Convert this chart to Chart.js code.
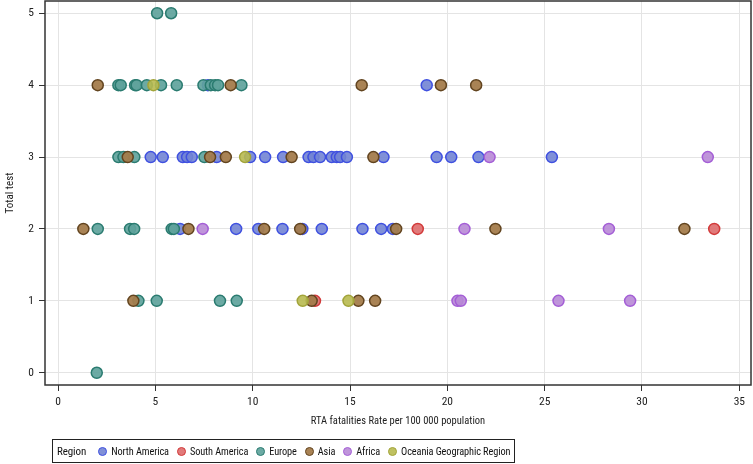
<!DOCTYPE html>
<html>
<head>
<meta charset="utf-8">
<script src="https://cdn.jsdelivr.net/npm/chart.js@4.4.0/dist/chart.umd.min.js"></script>
<style>
  html, body { margin: 0; padding: 0; background: #fff; }
  #wrap { position: relative; width: 753px; height: 464px; font-family: 'Roboto Condensed', 'Liberation Sans', sans-serif; }
  #legend { position: absolute; left: 52px; top: 439px; height: 24px; border: 1px solid #222; display: flex; align-items: center; padding: 0 4px 0 4px; font-size: 10.3px; letter-spacing: -0.1px; color: #111; white-space: nowrap; box-sizing: border-box; }
  #legend .title { margin-right: 12px; font-size: 11px; }
  #legend .item { display: flex; align-items: center; margin-right: 8px; }
  #legend .item:last-child { margin-right: 0; }
  #legend .dot { width: 9px; height: 9px; border-radius: 50%; border: 1.5px solid; margin-right: 4px; box-sizing: border-box; }
</style>
</head>
<body>
<div id="wrap">
  <canvas id="c" width="753" height="464"></canvas>
  <div id="legend"></div>
</div>
<script>
// ---- data ----
const regions = ['North America', 'South America', 'Europe', 'Asia', 'Africa', 'Oceania Geographic Region'];
const legendTitle = 'Region';
const xTitle = 'RTA fatalities Rate per 100 000 population';
const yTitle = 'Total test';
const xTickValues = [0, 5, 10, 15, 20, 25, 30, 35];
const yTickValues = [0, 1, 2, 3, 4, 5];

const northAmericaX = [7.7, 18.94,
  4.76, 5.38, 6.41, 6.63, 6.87, 8.15, 9.87, 10.64, 11.56, 12.87, 13.12, 13.46, 14.06, 14.32, 14.49, 14.84, 16.72, 19.45, 20.2, 21.6, 25.37,
  6.27, 9.15, 10.29, 11.53, 12.55, 13.55, 15.64, 16.6, 17.2];
const northAmericaY = [4, 4,
  3, 3, 3, 3, 3, 3, 3, 3, 3, 3, 3, 3, 3, 3, 3, 3, 3, 3, 3, 3, 3,
  2, 2, 2, 2, 2, 2, 2, 2, 2];

const southAmericaX = [18.48, 33.71, 13.2];
const southAmericaY = [2, 2, 1];

const europeX = [5.09, 5.81,
  3.10, 3.22, 3.96, 4.04, 4.56, 5.29, 6.10, 7.47, 7.85, 8.07, 8.22, 9.42,
  3.10, 3.36, 3.92, 7.52,
  2.04, 3.70, 3.91, 5.84, 5.95,
  4.13, 5.07, 8.32, 9.18,
  1.99];
const europeY = [5, 5,
  4, 4, 4, 4, 4, 4, 4, 4, 4, 4, 4, 4,
  3, 3, 3, 3,
  2, 2, 2, 2, 2,
  1, 1, 1, 1,
  0];

const asiaX = [2.04, 8.87, 15.6, 19.67, 21.48,
  3.58, 7.81, 8.62, 12.0, 16.2,
  1.30, 6.70, 10.59, 12.44, 17.37, 22.47, 32.18,
  3.87, 13.03, 15.43, 16.29];
const asiaY = [4, 4, 4, 4, 4,
  3, 3, 3, 3, 3,
  2, 2, 2, 2, 2, 2, 2,
  1, 1, 1, 1];

const africaX = [22.17, 33.38, 7.43, 20.88, 28.3, 20.52, 20.69, 25.71, 29.39];
const africaY = [3, 3, 2, 2, 2, 1, 1, 1, 1];

const oceaniaX = [4.90, 9.61, 12.57, 14.92];
const oceaniaY = [4, 3, 1, 1];

const seriesX = [northAmericaX, southAmericaX, europeX, asiaX, africaX, oceaniaX];
const seriesY = [northAmericaY, southAmericaY, europeY, asiaY, africaY, oceaniaY];

// ---- styles ----
const fills = ['rgba(114,132,212,0.9)', 'rgba(222,108,108,0.9)', 'rgba(95,163,156,0.92)', 'rgba(164,124,76,0.95)', 'rgba(184,138,214,0.9)', 'rgba(184,186,80,0.9)'];
const borders = ['#3f50e0', '#d23a3a', '#2a7b70', '#62441f', '#a45ed6', '#a2a43a'];
const drawOrder = [6, 5, 4, 2, 3, 1];

const FONT = "'Roboto Condensed', 'Liberation Sans', sans-serif";

const datasets = regions.map((r, i) => ({
  label: r,
  data: seriesX[i].map((x, k) => ({ x: x, y: seriesY[i][k] })),
  backgroundColor: fills[i],
  borderColor: borders[i],
  borderWidth: 1.5,
  pointRadius: 5.5,
  pointHoverRadius: 5.5,
  order: drawOrder[i]
}));

const framePlugin = {
  id: 'frame',
  afterDraw(chart) {
    const a = chart.chartArea, ctx = chart.ctx;
    ctx.save();
    ctx.strokeStyle = '#333';
    ctx.lineWidth = 1.5;
    ctx.strokeRect(a.left, a.top, a.right - a.left, a.bottom - a.top);
    ctx.restore();
  }
};

new Chart(document.getElementById('c'), {
  type: 'scatter',
  data: { datasets },
  plugins: [framePlugin],
  options: {
    responsive: false,
    animation: false,
    layout: { autoPadding: false, padding: { top: 1, right: 2, bottom: 32, left: 0 } },
    plugins: { legend: { display: false }, tooltip: { enabled: false } },
    scales: {
      x: {
        type: 'linear', min: -0.67, max: 35.6,
        afterBuildTicks(s) { s.ticks = xTickValues.map(v => ({ value: v })); },
        afterFit(s) { s.height = 47; s.paddingLeft = 0; s.paddingRight = 0; },
        grid: { color: '#e4e4e4', tickColor: '#333', tickLength: 6, drawTicks: true },
        border: { display: false },
        ticks: { color: '#222', font: { family: FONT, size: 11.5 }, padding: 4, maxRotation: 0 },
        title: { display: true, text: xTitle, color: '#222', font: { family: FONT, size: 10.5 }, padding: { top: 5 } }
      },
      y: {
        type: 'linear', min: -0.17, max: 5.17,
        afterBuildTicks(s) { s.ticks = yTickValues.map(v => ({ value: v })); },
        afterFit(s) { s.width = 45; s.paddingTop = 0; s.paddingBottom = 0; },
        grid: { color: '#e4e4e4', tickColor: '#333', tickLength: 6 },
        border: { display: false },
        ticks: { color: '#222', font: { family: FONT, size: 11.5 }, padding: 5 },
        title: { display: true, text: yTitle, color: '#222', font: { family: FONT, size: 11 }, padding: { bottom: 0 } }
      }
    }
  }
});

// ---- HTML legend built from arrays ----
const lg = document.getElementById('legend');
const t = document.createElement('span'); t.className = 'title'; t.textContent = legendTitle; lg.appendChild(t);
regions.forEach((r, i) => {
  const it = document.createElement('span'); it.className = 'item';
  const d = document.createElement('span'); d.className = 'dot';
  d.style.background = fills[i]; d.style.borderColor = borders[i];
  const tx = document.createElement('span'); tx.textContent = r;
  it.appendChild(d); it.appendChild(tx); lg.appendChild(it);
});
</script>
</body>
</html>
